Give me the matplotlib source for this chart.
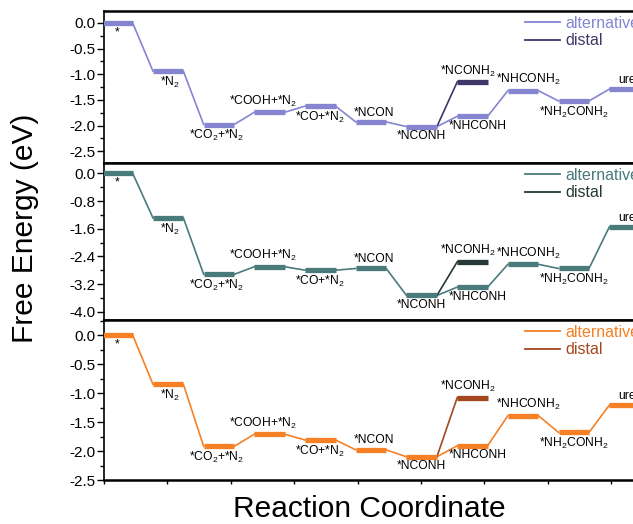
import matplotlib
matplotlib.use("Agg")
import matplotlib.pyplot as plt
from matplotlib.lines import Line2D
from matplotlib.ticker import MultipleLocator

plt.rcParams['font.family'] = ['Liberation Sans', 'DejaVu Sans']
plt.rcParams['mathtext.default'] = 'regular'
plt.rcParams['axes.unicode_minus'] = False

# intermediates along the reaction coordinate (alternative pathway)
labels = ["*", "*N$_2$", "*CO$_2$+*N$_2$", "*COOH+*N$_2$", "*CO+*N$_2$", "*NCON",
          "*NCONH", "*NHCONH", "*NHCONH$_2$", "*NH$_2$CONH$_2$", "urea"]
label_side = ["below", "below", "below", "above", "below", "above",
              "below", "below", "above", "below", "above"]
label_dx = [0, 1, -2, -5, 0, 2, 0, 4, 4, 0, 4]

# distal branch: from *NCONH (index 6) to *NCONH2 at position 7
distal_label = "*NCONH$_2$"

energies_top = [0.0, -0.94, -1.98, -1.74, -1.62, -1.93, -2.02, -1.82, -1.32, -1.52, -1.29]
distal_top = -1.15
energies_mid = [0.0, -1.29, -2.92, -2.70, -2.80, -2.75, -3.53, -3.29, -2.63, -2.75, -1.55]
distal_mid = -2.56
energies_bot = [0.0, -0.85, -1.92, -1.71, -1.81, -1.98, -2.10, -1.91, -1.39, -1.68, -1.21]
distal_bot = -1.08

panels = [
    dict(E=energies_top, d=distal_top, c="#8585d0", dc="#3d3868",
         ylim=(-2.73, 0.234), minor=0.25, ticks=[0.0, -0.5, -1.0, -1.5, -2.0, -2.5],
         rect=[104, 11, 163]),
    dict(E=energies_mid, d=distal_mid, c="#4b7a7a", dc="#263838",
         ylim=(-4.24, 0.30), minor=0.4, ticks=[0.0, -0.8, -1.6, -2.4, -3.2, -4.0],
         rect=[104, 163, 320]),
    dict(E=energies_bot, d=distal_bot, c="#f58026", dc="#a3481e",
         ylim=(-2.5, 0.26), minor=0.25, ticks=[0.0, -0.5, -1.0, -1.5, -2.0, -2.5],
         rect=[104, 320, 480]),
]

W, H = 633, 524
fig = plt.figure(figsize=(W / 100, H / 100), dpi=100)

half = 0.3
xright = 10.70
xleft = -0.266
for p in panels:
    left, top, bottom = p["rect"]
    ax = fig.add_axes([left / W, (H - bottom) / H, (660 - left) / W, (bottom - top) / H])
    E = p["E"]
    c = p["c"]
    dc = p["dc"]
    # connectors
    for i in range(len(E) - 1):
        ax.plot([i + half, i + 1 - half], [E[i], E[i + 1]], color=c, lw=1.2, zorder=2)
    ax.plot([6 + half, 7 - half], [E[6], p["d"]], color=dc, lw=1.2, zorder=2)
    # levels
    for i, e in enumerate(E):
        ax.plot([i - half, i + half], [e, e], color=c, lw=3.8, solid_capstyle='butt', zorder=3)
    ax.plot([7 - half, 7 + half], [p["d"], p["d"]], color=dc, lw=3.8, solid_capstyle='butt', zorder=3)
    # labels
    for i, (e, lab) in enumerate(zip(E, labels)):
        if label_side[i] == "above":
            ax.annotate(lab, (i, e), xytext=(label_dx[i], 2.5), textcoords='offset points',
                        ha='center', va='bottom', fontsize=8.7, annotation_clip=False)
        else:
            ax.annotate(lab, (i, e), xytext=(label_dx[i], -2.5), textcoords='offset points',
                        ha='center', va='top', fontsize=8.7, annotation_clip=False)
    ax.annotate(distal_label, (7, p["d"]), xytext=(-3, 2.5), textcoords='offset points',
                ha='center', va='bottom', fontsize=8.7)

    ax.set_xlim(xleft, xright)
    ax.set_ylim(*p["ylim"])
    ax.set_yticks(p["ticks"])
    ax.yaxis.set_minor_locator(MultipleLocator(p["minor"]))
    ax.set_xticks([xleft + 1.25 * k for k in range(9)])
    ax.tick_params(axis='x', which='both', labelbottom=False, direction='out', length=3, width=1)
    ax.tick_params(axis='y', which='major', labelsize=11, length=5, width=1, pad=1)
    ax.tick_params(axis='y', which='minor', length=3, width=1)
    for s in ax.spines.values():
        s.set_linewidth(1.2)
    ax.spines['top'].set_linewidth(1.8)
    ax.spines['bottom'].set_linewidth(1.8)

    handles = [Line2D([], [], color=c, lw=1.3), Line2D([], [], color=dc, lw=1.3)]
    ax.legend(handles, ["alternative", "distal"], loc='upper left',
              bbox_to_anchor=((525 - left) / (660 - left), 1 - 5 / (bottom - top)),
              frameon=False, fontsize=11.5, labelcolor='linecolor', borderpad=0,
              borderaxespad=0, handlelength=2.2, handletextpad=0.3, labelspacing=0.15)

fig.text(25 / W, 1 - 228 / H, "Free Energy (eV)", rotation=90, ha='center', va='center', fontsize=21.5)
fig.text(369 / W, 1 - 509 / H, "Reaction Coordinate", ha='center', va='center', fontsize=21.5)

fig.savefig("out.png", dpi=100)
